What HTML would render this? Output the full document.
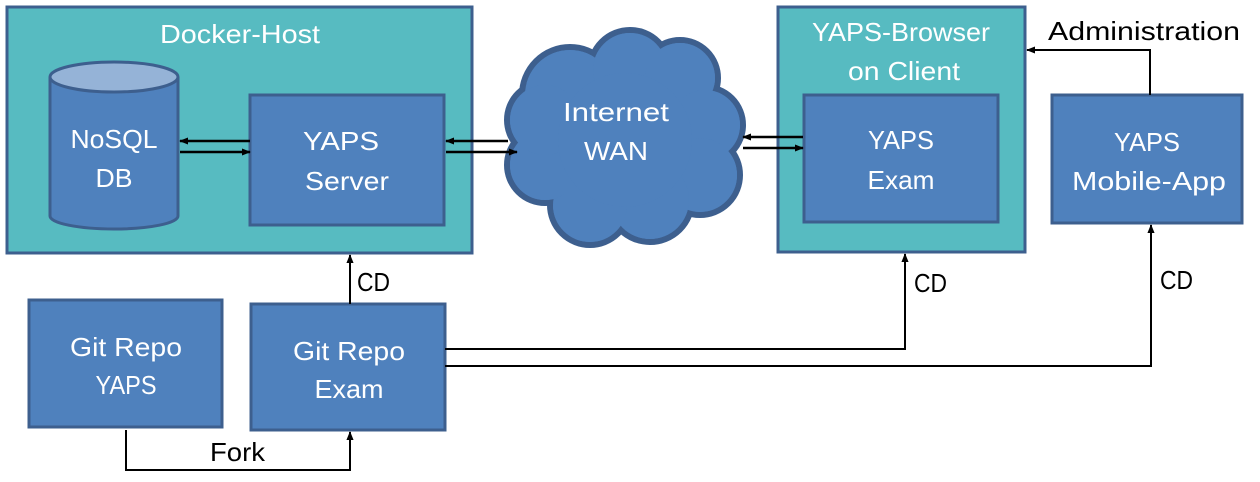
<!DOCTYPE html>
<html><head><meta charset="utf-8"><style>
html,body{margin:0;padding:0;background:#fff;}
svg{display:block;}
text{font-family:"Liberation Sans",sans-serif;font-size:26px;fill:#fff;text-anchor:middle;}
.k{fill:#000;text-anchor:start;}
</style></head><body>
<svg width="1260" height="482" viewBox="0 0 1260 482" xmlns="http://www.w3.org/2000/svg">
<defs>
<marker id="a" viewBox="0 0 10 10" refX="9" refY="5" markerWidth="9" markerHeight="9" markerUnits="userSpaceOnUse" orient="auto"><path d="M0,1 L10,5 L0,9 z" fill="#000"/></marker>
</defs>
<rect x="7" y="7" width="465" height="246" fill="#57BBC1" stroke="#3D5F8E" stroke-width="3"/>
<text x="240" y="43" textLength="160" lengthAdjust="spacingAndGlyphs">Docker-Host</text>
<path d="M50,77 L50,216 A64,13 0 0 0 178,216 L178,77" fill="#4F81BD" stroke="#3D5F8E" stroke-width="3"/>
<ellipse cx="114" cy="77" rx="64" ry="15" fill="#95B3D7" stroke="#3D5F8E" stroke-width="3"/>
<text x="114" y="148" textLength="87" lengthAdjust="spacingAndGlyphs">NoSQL</text>
<text x="114" y="187" textLength="37" lengthAdjust="spacingAndGlyphs">DB</text>
<rect x="250" y="95" width="194" height="130" fill="#4F81BD" stroke="#3D5F8E" stroke-width="3"/>
<text x="341" y="150" textLength="76" lengthAdjust="spacingAndGlyphs">YAPS</text>
<text x="347" y="190" textLength="84" lengthAdjust="spacingAndGlyphs">Server</text>
<rect x="778" y="7" width="247" height="245" fill="#57BBC1" stroke="#3D5F8E" stroke-width="3"/>
<text x="901" y="41" textLength="178" lengthAdjust="spacingAndGlyphs">YAPS-Browser</text>
<text x="904" y="80" textLength="112" lengthAdjust="spacingAndGlyphs">on Client</text>
<rect x="804" y="95" width="194" height="127" fill="#4F81BD" stroke="#3D5F8E" stroke-width="3"/>
<text x="901" y="149" textLength="66" lengthAdjust="spacingAndGlyphs">YAPS</text>
<text x="901" y="189" textLength="67" lengthAdjust="spacingAndGlyphs">Exam</text>
<rect x="1052" y="95" width="190" height="128" fill="#4F81BD" stroke="#3D5F8E" stroke-width="3"/>
<text x="1147" y="151" textLength="66" lengthAdjust="spacingAndGlyphs">YAPS</text>
<text x="1149" y="190" textLength="154" lengthAdjust="spacingAndGlyphs">Mobile-App</text>
<rect x="29" y="300" width="193" height="127" fill="#4F81BD" stroke="#3D5F8E" stroke-width="3"/>
<text x="126" y="356" textLength="112" lengthAdjust="spacingAndGlyphs">Git Repo</text>
<text x="126" y="394" textLength="61" lengthAdjust="spacingAndGlyphs">YAPS</text>
<rect x="251" y="304" width="194" height="126" fill="#4F81BD" stroke="#3D5F8E" stroke-width="3"/>
<text x="349" y="360" textLength="112" lengthAdjust="spacingAndGlyphs">Git Repo</text>
<text x="349" y="398" textLength="69" lengthAdjust="spacingAndGlyphs">Exam</text>
<g stroke="#3D5F8E" stroke-width="6" fill="#4F81BD">
<circle cx="570" cy="95" r="48"/><circle cx="630" cy="70" r="40"/><circle cx="680" cy="78" r="38"/>
<circle cx="705" cy="125" r="38"/><circle cx="700" cy="175" r="40"/><circle cx="650" cy="200" r="42"/>
<circle cx="590" cy="205" r="40"/><circle cx="545" cy="165" r="38"/><circle cx="545" cy="120" r="38"/><circle cx="625" cy="140" r="70"/>
</g>
<g fill="#4F81BD">
<circle cx="570" cy="95" r="45"/><circle cx="630" cy="70" r="37"/><circle cx="680" cy="78" r="35"/>
<circle cx="705" cy="125" r="35"/><circle cx="700" cy="175" r="37"/><circle cx="650" cy="200" r="39"/>
<circle cx="590" cy="205" r="37"/><circle cx="545" cy="165" r="35"/><circle cx="545" cy="120" r="35"/><circle cx="625" cy="140" r="67"/>
</g>
<text x="616" y="121" textLength="106" lengthAdjust="spacingAndGlyphs">Internet</text>
<text x="616" y="160" textLength="64" lengthAdjust="spacingAndGlyphs">WAN</text>
<g stroke="#000" stroke-width="2.5" fill="none">
<line x1="250" y1="141" x2="180" y2="141" marker-end="url(#a)"/>
<line x1="180" y1="152" x2="250" y2="152" marker-end="url(#a)"/>
<line x1="508" y1="141" x2="446" y2="141" marker-end="url(#a)"/>
<line x1="446" y1="152" x2="517" y2="152" marker-end="url(#a)"/>
<line x1="803" y1="137" x2="743" y2="137" marker-end="url(#a)"/>
<line x1="743" y1="148" x2="803" y2="148" marker-end="url(#a)"/>
</g>
<g stroke="#000" stroke-width="2" fill="none">
<line x1="350" y1="304" x2="350" y2="255" marker-end="url(#a)"/>
<polyline points="445,349 905,349 905,254" marker-end="url(#a)"/>
<polyline points="445,366 1151,366 1151,225" marker-end="url(#a)"/>
<polyline points="126,430 126,470 350,470 350,432" marker-end="url(#a)"/>
<polyline points="1150,95 1150,50 1027,50" marker-end="url(#a)"/>
</g>
<text class="k" x="357" y="291" textLength="33" lengthAdjust="spacingAndGlyphs">CD</text>
<text class="k" x="914" y="292" textLength="33" lengthAdjust="spacingAndGlyphs">CD</text>
<text class="k" x="1160" y="289" textLength="33" lengthAdjust="spacingAndGlyphs">CD</text>
<text class="k" x="210" y="461" textLength="55" lengthAdjust="spacingAndGlyphs">Fork</text>
<text class="k" x="1048" y="40" textLength="192" lengthAdjust="spacingAndGlyphs">Administration</text>
</svg>
</body></html>
